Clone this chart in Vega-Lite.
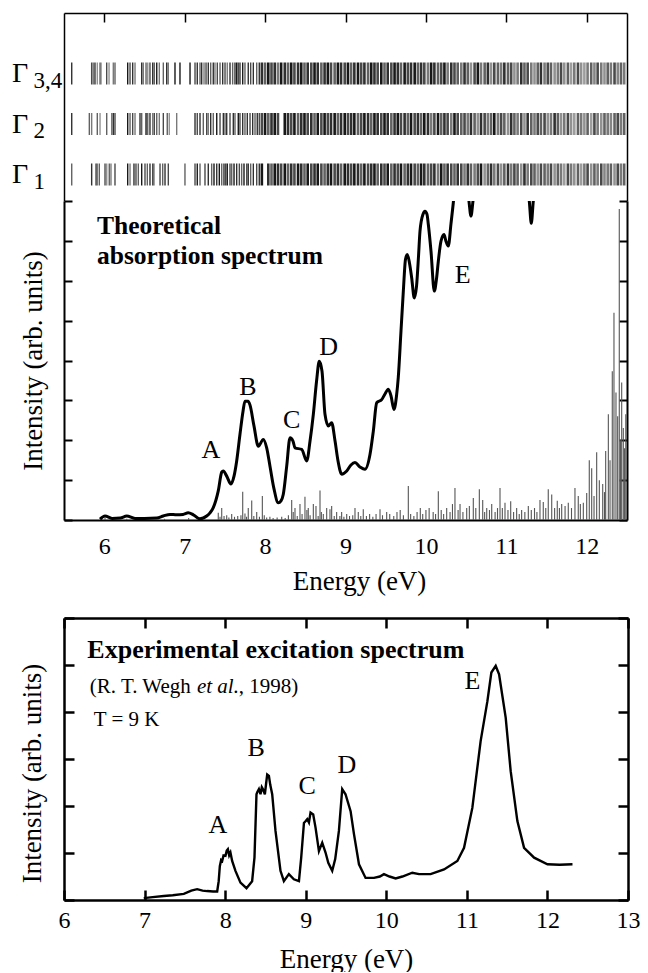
{
"$schema":"https://vega.github.io/schema/vega-lite/v6.json",
"autosize":{"type":"pad"},
"padding":{"left":12,"top":12,"right":10,"bottom":0},
"config":{"view":{"stroke":null},"font":"Times New Roman, Liberation Serif, Times, serif",
"axis":{"grid":false,"domainColor":"black","tickColor":"black","labelColor":"black","titleColor":"black","labelFont":"Times New Roman, Liberation Serif, Times, serif","titleFont":"Times New Roman, Liberation Serif, Times, serif","titleFontWeight":"normal","labelFlush":false,"labelOverlap":false,"minExtent":0},
"text":{"font":"Times New Roman, Liberation Serif, Times, serif","color":"black"}},
"datasets":{
"glabels":[{"l":3,"main":"Γ","sub":"3,4"},{"l":2,"main":"Γ","sub":"2"},{"l":1,"main":"Γ","sub":"1"}],
"gamma":[
{"l":3,"e":5.596,"f":0.8},{"l":3,"e":5.844,"f":0.7},{"l":3,"e":5.864,"f":0.5},{"l":3,"e":5.885,"f":0.8},{"l":3,"e":5.914,"f":0.4},{"l":3,"e":5.948,"f":0.6},{"l":3,"e":5.964,"f":0.3},{"l":3,"e":6.031,"f":0.7},{"l":3,"e":6.06,"f":0.4},{"l":3,"e":6.113,"f":0.5},{"l":3,"e":6.134,"f":0.6},{"l":3,"e":6.292,"f":0.9},{"l":3,"e":6.321,"f":0.7},{"l":3,"e":6.354,"f":0.8},{"l":3,"e":6.383,"f":0.5},{"l":3,"e":6.466,"f":0.8},{"l":3,"e":6.486,"f":0.5},{"l":3,"e":6.52,"f":0.6},{"l":3,"e":6.541,"f":0.4},{"l":3,"e":6.569,"f":0.7},{"l":3,"e":6.603,"f":0.8},{"l":3,"e":6.623,"f":0.6},{"l":3,"e":6.653,"f":0.9},{"l":3,"e":6.685,"f":0.5},{"l":3,"e":6.735,"f":0.6},{"l":3,"e":6.777,"f":0.8},{"l":3,"e":6.797,"f":0.5},{"l":3,"e":6.88,"f":0.9},{"l":3,"e":6.942,"f":0.9},{"l":3,"e":7.067,"f":0.9},{"l":3,"e":7.129,"f":0.7},{"l":3,"e":7.157,"f":0.8},{"l":3,"e":7.191,"f":0.6},{"l":3,"e":7.212,"f":0.8},{"l":3,"e":7.241,"f":0.5},{"l":3,"e":7.266,"f":0.7},{"l":3,"e":7.294,"f":0.8},{"l":3,"e":7.324,"f":0.6},{"l":3,"e":7.356,"f":0.8},{"l":3,"e":7.377,"f":0.5},{"l":3,"e":7.406,"f":0.7},{"l":3,"e":7.44,"f":0.6},{"l":3,"e":7.473,"f":0.8},{"l":3,"e":7.502,"f":0.7},{"l":3,"e":7.53,"f":0.5},{"l":3,"e":7.564,"f":0.8},{"l":3,"e":7.597,"f":0.6},{"l":3,"e":7.626,"f":0.8},{"l":3,"e":7.647,"f":0.9},{"l":3,"e":7.667,"f":0.7},{"l":3,"e":7.688,"f":0.8},{"l":3,"e":7.722,"f":0.9},{"l":3,"e":7.75,"f":0.6},{"l":3,"e":7.791,"f":0.8},{"l":3,"e":7.821,"f":0.7},{"l":3,"e":7.854,"f":0.8},{"l":3,"e":7.896,"f":0.6},{"l":3,"e":7.928,"f":0.8},
{"l":3,"e":7.96,"f":0.8},{"l":3,"e":8.0,"f":0.6},{"l":3,"e":8.04,"f":0.9},{"l":3,"e":8.08,"f":0.7},{"l":3,"e":8.12,"f":0.8},{"l":3,"e":8.16,"f":0.5},{"l":3,"e":8.2,"f":0.9},{"l":3,"e":8.245,"f":0.8},{"l":3,"e":8.285,"f":0.6},{"l":3,"e":8.325,"f":0.9},
{"l":3,"e":8.365,"f":0.7},{"l":3,"e":8.41,"f":0.8},{"l":3,"e":8.45,"f":0.9},{"l":3,"e":8.49,"f":0.6},{"l":3,"e":8.53,"f":0.8},{"l":3,"e":8.575,"f":0.7},{"l":3,"e":8.615,"f":0.9},{"l":3,"e":8.655,"f":0.8},{"l":3,"e":8.7,"f":0.6},{"l":3,"e":8.74,"f":0.8},
{"l":3,"e":8.78,"f":0.9},{"l":3,"e":8.82,"f":0.7},{"l":3,"e":8.865,"f":0.6},{"l":3,"e":8.905,"f":0.9},{"l":3,"e":8.945,"f":0.8},{"l":3,"e":8.99,"f":0.7},{"l":3,"e":9.03,"f":0.9},{"l":3,"e":9.07,"f":0.6},{"l":3,"e":9.11,"f":0.8},{"l":3,"e":9.155,"f":0.9},
{"l":3,"e":9.195,"f":0.7},{"l":3,"e":9.235,"f":0.8},{"l":3,"e":9.28,"f":0.6},{"l":3,"e":9.32,"f":0.9},{"l":3,"e":9.36,"f":0.8},{"l":3,"e":9.4,"f":0.7},{"l":3,"e":9.445,"f":0.9},{"l":3,"e":9.485,"f":0.6},{"l":3,"e":9.525,"f":0.8},{"l":3,"e":9.57,"f":0.7},
{"l":3,"e":9.61,"f":0.9},{"l":3,"e":9.65,"f":0.8},{"l":3,"e":9.69,"f":0.6},{"l":3,"e":9.735,"f":0.9},{"l":3,"e":9.775,"f":0.7},{"l":3,"e":9.815,"f":0.8},{"l":3,"e":9.86,"f":0.9},{"l":3,"e":9.9,"f":0.6},{"l":3,"e":9.94,"f":0.8},{"l":3,"e":9.98,"f":0.7},
{"l":3,"e":10.025,"f":0.5},{"l":3,"e":10.065,"f":0.9},{"l":3,"e":10.105,"f":0.8},{"l":3,"e":10.15,"f":0.6},{"l":3,"e":10.19,"f":0.7},{"l":3,"e":10.23,"f":0.9},{"l":3,"e":10.27,"f":0.5},{"l":3,"e":10.315,"f":0.8},{"l":3,"e":10.355,"f":0.7},{"l":3,"e":10.395,"f":0.6},
{"l":3,"e":10.44,"f":0.5},{"l":3,"e":10.48,"f":0.8},{"l":3,"e":10.52,"f":0.6},{"l":3,"e":10.56,"f":0.4},{"l":3,"e":10.605,"f":0.7},{"l":3,"e":10.645,"f":0.9},{"l":3,"e":10.685,"f":0.5},{"l":3,"e":10.73,"f":0.6},{"l":3,"e":10.77,"f":0.8},{"l":3,"e":10.81,"f":0.4},
{"l":3,"e":10.85,"f":0.7},{"l":3,"e":10.895,"f":0.6},{"l":3,"e":10.935,"f":0.5},{"l":3,"e":10.975,"f":0.8},{"l":3,"e":11.02,"f":0.6},{"l":3,"e":11.06,"f":0.7},{"l":3,"e":11.1,"f":0.4},{"l":3,"e":11.14,"f":0.5},{"l":3,"e":11.185,"f":0.8},{"l":3,"e":11.225,"f":0.6},
{"l":3,"e":11.265,"f":0.7},{"l":3,"e":11.31,"f":0.5},{"l":3,"e":11.35,"f":0.4},{"l":3,"e":11.39,"f":0.6},{"l":3,"e":11.43,"f":0.8},{"l":3,"e":11.475,"f":0.5},{"l":3,"e":11.515,"f":0.7},{"l":3,"e":11.555,"f":0.6},{"l":3,"e":11.6,"f":0.4},{"l":3,"e":11.64,"f":0.5},
{"l":3,"e":11.68,"f":0.7},{"l":3,"e":11.72,"f":0.4},{"l":3,"e":11.765,"f":0.6},{"l":3,"e":11.805,"f":0.35},{"l":3,"e":11.845,"f":0.5},{"l":3,"e":11.89,"f":0.7},{"l":3,"e":11.93,"f":0.4},{"l":3,"e":11.97,"f":0.35},{"l":3,"e":12.01,"f":0.5},{"l":3,"e":12.055,"f":0.6},
{"l":3,"e":12.095,"f":0.45},{"l":3,"e":12.135,"f":0.7},{"l":3,"e":12.18,"f":0.5},{"l":3,"e":12.22,"f":0.4},{"l":3,"e":12.26,"f":0.6},{"l":3,"e":12.3,"f":0.5},{"l":3,"e":12.345,"f":0.7},{"l":3,"e":12.385,"f":0.45},{"l":3,"e":12.425,"f":0.6},{"l":3,"e":12.465,"f":0.5},
{"l":2,"e":5.596,"f":0.8},{"l":2,"e":5.815,"f":0.6},{"l":2,"e":5.844,"f":0.5},{"l":2,"e":5.914,"f":0.6},{"l":2,"e":5.948,"f":0.4},{"l":2,"e":6.031,"f":0.6},{"l":2,"e":6.093,"f":0.5},{"l":2,"e":6.113,"f":0.8},{"l":2,"e":6.134,"f":0.7},{"l":2,"e":6.292,"f":0.9},{"l":2,"e":6.321,"f":0.6},{"l":2,"e":6.354,"f":0.7},{"l":2,"e":6.383,"f":0.5},{"l":2,"e":6.445,"f":0.8},{"l":2,"e":6.466,"f":0.6},{"l":2,"e":6.52,"f":0.9},{"l":2,"e":6.541,"f":0.6},{"l":2,"e":6.569,"f":0.8},{"l":2,"e":6.603,"f":0.5},{"l":2,"e":6.623,"f":0.7},{"l":2,"e":6.653,"f":0.6},{"l":2,"e":6.685,"f":0.5},{"l":2,"e":6.735,"f":0.7},{"l":2,"e":6.784,"f":0.6},{"l":2,"e":6.809,"f":0.4},{"l":2,"e":6.901,"f":0.5},{"l":2,"e":7.129,"f":0.8},{"l":2,"e":7.157,"f":0.7},{"l":2,"e":7.191,"f":0.8},{"l":2,"e":7.232,"f":0.6},{"l":2,"e":7.274,"f":0.7},{"l":2,"e":7.294,"f":0.5},{"l":2,"e":7.324,"f":0.8},{"l":2,"e":7.356,"f":0.6},{"l":2,"e":7.399,"f":0.9},{"l":2,"e":7.44,"f":0.7},{"l":2,"e":7.481,"f":0.8},{"l":2,"e":7.502,"f":0.6},{"l":2,"e":7.523,"f":0.8},{"l":2,"e":7.564,"f":0.7},{"l":2,"e":7.605,"f":0.8},{"l":2,"e":7.626,"f":0.6},{"l":2,"e":7.667,"f":0.9},{"l":2,"e":7.688,"f":0.7},{"l":2,"e":7.722,"f":0.8},{"l":2,"e":7.75,"f":0.6},{"l":2,"e":7.779,"f":0.8},{"l":2,"e":7.813,"f":0.7},{"l":2,"e":7.846,"f":0.8},{"l":2,"e":7.875,"f":0.6},{"l":2,"e":7.903,"f":0.8},{"l":2,"e":7.928,"f":0.7},
{"l":2,"e":7.96,"f":0.7},{"l":2,"e":8.0,"f":0.9},{"l":2,"e":8.04,"f":0.6},{"l":2,"e":8.08,"f":0.8},{"l":2,"e":8.12,"f":0.9},{"l":2,"e":8.16,"f":0.7},{"l":2,"e":8.245,"f":0.9},{"l":2,"e":8.285,"f":0.8},{"l":2,"e":8.325,"f":0.7},
{"l":2,"e":8.365,"f":0.9},{"l":2,"e":8.41,"f":0.6},{"l":2,"e":8.45,"f":0.8},{"l":2,"e":8.49,"f":0.9},{"l":2,"e":8.53,"f":0.7},{"l":2,"e":8.575,"f":0.8},{"l":2,"e":8.615,"f":0.6},{"l":2,"e":8.655,"f":0.9},{"l":2,"e":8.7,"f":0.7},
{"l":2,"e":8.74,"f":0.9},{"l":2,"e":8.78,"f":0.7},{"l":2,"e":8.82,"f":0.8},{"l":2,"e":8.865,"f":0.9},{"l":2,"e":8.905,"f":0.6},{"l":2,"e":8.945,"f":0.8},{"l":2,"e":8.99,"f":0.9},{"l":2,"e":9.03,"f":0.7},{"l":2,"e":9.07,"f":0.8},{"l":2,"e":9.11,"f":0.9},{"l":2,"e":9.155,"f":0.6},{"l":2,"e":9.195,"f":0.7},{"l":2,"e":9.235,"f":0.9},{"l":2,"e":9.28,"f":0.8},{"l":2,"e":9.32,"f":0.6},{"l":2,"e":9.36,"f":0.9},{"l":2,"e":9.4,"f":0.8},
{"l":2,"e":9.445,"f":0.7},{"l":2,"e":9.485,"f":0.9},{"l":2,"e":9.525,"f":0.8},{"l":2,"e":9.57,"f":0.6},{"l":2,"e":9.61,"f":0.8},{"l":2,"e":9.65,"f":0.9},{"l":2,"e":9.69,"f":0.7},{"l":2,"e":9.735,"f":0.8},{"l":2,"e":9.775,"f":0.6},{"l":2,"e":9.815,"f":0.9},{"l":2,"e":9.86,"f":0.7},{"l":2,"e":9.9,"f":0.8},{"l":2,"e":9.94,"f":0.6},{"l":2,"e":9.98,"f":0.9},{"l":2,"e":10.025,"f":0.8},{"l":2,"e":10.065,"f":0.5},{"l":2,"e":10.105,"f":0.7},{"l":2,"e":10.15,"f":0.9},{"l":2,"e":10.19,"f":0.6},{"l":2,"e":10.23,"f":0.8},{"l":2,"e":10.27,"f":0.7},{"l":2,"e":10.315,"f":0.5},{"l":2,"e":10.355,"f":0.9},{"l":2,"e":10.395,"f":0.7},
{"l":2,"e":10.44,"f":0.6},{"l":2,"e":10.48,"f":0.7},{"l":2,"e":10.52,"f":0.5},{"l":2,"e":10.56,"f":0.8},{"l":2,"e":10.605,"f":0.6},{"l":2,"e":10.645,"f":0.4},{"l":2,"e":10.685,"f":0.8},{"l":2,"e":10.73,"f":0.7},{"l":2,"e":10.77,"f":0.5},{"l":2,"e":10.81,"f":0.6},{"l":2,"e":10.85,"f":0.9},{"l":2,"e":10.895,"f":0.5},{"l":2,"e":10.935,"f":0.7},{"l":2,"e":10.975,"f":0.6},{"l":2,"e":11.02,"f":0.4},{"l":2,"e":11.06,"f":0.8},{"l":2,"e":11.1,"f":0.6},{"l":2,"e":11.14,"f":0.5},{"l":2,"e":11.185,"f":0.7},{"l":2,"e":11.225,"f":0.4},{"l":2,"e":11.265,"f":0.8},{"l":2,"e":11.31,"f":0.6},{"l":2,"e":11.35,"f":0.5},{"l":2,"e":11.39,"f":0.7},{"l":2,"e":11.43,"f":0.6},
{"l":2,"e":11.475,"f":0.7},{"l":2,"e":11.515,"f":0.4},{"l":2,"e":11.555,"f":0.5},{"l":2,"e":11.6,"f":0.8},{"l":2,"e":11.64,"f":0.6},{"l":2,"e":11.68,"f":0.4},{"l":2,"e":11.72,"f":0.5},{"l":2,"e":11.765,"f":0.7},{"l":2,"e":11.805,"f":0.4},{"l":2,"e":11.845,"f":0.35},{"l":2,"e":11.89,"f":0.6},{"l":2,"e":11.93,"f":0.5},{"l":2,"e":11.97,"f":0.4},{"l":2,"e":12.01,"f":0.6},{"l":2,"e":12.055,"f":0.35},{"l":2,"e":12.095,"f":0.7},{"l":2,"e":12.135,"f":0.5},{"l":2,"e":12.18,"f":0.4},{"l":2,"e":12.22,"f":0.6},{"l":2,"e":12.26,"f":0.5},{"l":2,"e":12.3,"f":0.45},{"l":2,"e":12.345,"f":0.6},{"l":2,"e":12.385,"f":0.7},{"l":2,"e":12.425,"f":0.5},{"l":2,"e":12.465,"f":0.6},
{"l":1,"e":5.596,"f":0.6},{"l":1,"e":5.844,"f":0.8},{"l":1,"e":5.898,"f":0.7},{"l":1,"e":5.914,"f":0.5},{"l":1,"e":5.939,"f":0.6},{"l":1,"e":6.01,"f":0.7},{"l":1,"e":6.031,"f":0.4},{"l":1,"e":6.063,"f":0.6},{"l":1,"e":6.084,"f":0.5},{"l":1,"e":6.134,"f":0.7},{"l":1,"e":6.292,"f":0.9},{"l":1,"e":6.321,"f":0.5},{"l":1,"e":6.37,"f":0.8},{"l":1,"e":6.395,"f":0.7},{"l":1,"e":6.424,"f":0.6},{"l":1,"e":6.466,"f":0.9},{"l":1,"e":6.507,"f":0.7},{"l":1,"e":6.536,"f":0.6},{"l":1,"e":6.569,"f":0.8},{"l":1,"e":6.603,"f":0.7},{"l":1,"e":6.619,"f":0.5},{"l":1,"e":6.694,"f":0.7},{"l":1,"e":6.727,"f":0.6},{"l":1,"e":6.756,"f":0.8},{"l":1,"e":6.797,"f":0.7},{"l":1,"e":7.004,"f":0.6},{"l":1,"e":7.129,"f":0.7},{"l":1,"e":7.157,"f":0.9},{"l":1,"e":7.191,"f":0.6},{"l":1,"e":7.253,"f":0.7},{"l":1,"e":7.294,"f":0.8},{"l":1,"e":7.336,"f":0.6},{"l":1,"e":7.365,"f":0.9},{"l":1,"e":7.399,"f":0.8},{"l":1,"e":7.431,"f":0.9},{"l":1,"e":7.461,"f":0.6},{"l":1,"e":7.489,"f":0.8},{"l":1,"e":7.51,"f":0.7},{"l":1,"e":7.53,"f":0.9},{"l":1,"e":7.564,"f":0.7},{"l":1,"e":7.585,"f":0.6},{"l":1,"e":7.614,"f":0.9},{"l":1,"e":7.647,"f":0.8},{"l":1,"e":7.68,"f":0.7},{"l":1,"e":7.709,"f":0.6},{"l":1,"e":7.738,"f":0.9},{"l":1,"e":7.772,"f":0.7},{"l":1,"e":7.791,"f":0.8},{"l":1,"e":7.821,"f":0.6},{"l":1,"e":7.854,"f":0.8},{"l":1,"e":7.896,"f":0.7},{"l":1,"e":7.928,"f":0.8},
{"l":1,"e":7.96,"f":0.9},{"l":1,"e":8.04,"f":0.8},{"l":1,"e":8.08,"f":0.6},{"l":1,"e":8.12,"f":0.9},{"l":1,"e":8.16,"f":0.8},{"l":1,"e":8.2,"f":0.7},{"l":1,"e":8.245,"f":0.9},{"l":1,"e":8.285,"f":0.6},{"l":1,"e":8.325,"f":0.8},{"l":1,"e":8.365,"f":0.7},{"l":1,"e":8.41,"f":0.9},{"l":1,"e":8.45,"f":0.8},{"l":1,"e":8.49,"f":0.6},{"l":1,"e":8.53,"f":0.9},{"l":1,"e":8.575,"f":0.7},{"l":1,"e":8.615,"f":0.8},{"l":1,"e":8.655,"f":0.9},{"l":1,"e":8.7,"f":0.7},
{"l":1,"e":8.74,"f":0.6},{"l":1,"e":8.78,"f":0.8},{"l":1,"e":8.82,"f":0.9},{"l":1,"e":8.865,"f":0.7},{"l":1,"e":8.905,"f":0.8},{"l":1,"e":8.945,"f":0.6},{"l":1,"e":8.99,"f":0.9},{"l":1,"e":9.03,"f":0.8},{"l":1,"e":9.07,"f":0.7},{"l":1,"e":9.11,"f":0.9},{"l":1,"e":9.155,"f":0.8},{"l":1,"e":9.195,"f":0.6},{"l":1,"e":9.235,"f":0.9},{"l":1,"e":9.28,"f":0.7},{"l":1,"e":9.32,"f":0.8},{"l":1,"e":9.36,"f":0.9},{"l":1,"e":9.4,"f":0.6},
{"l":1,"e":9.445,"f":0.8},{"l":1,"e":9.485,"f":0.7},{"l":1,"e":9.525,"f":0.9},{"l":1,"e":9.57,"f":0.6},{"l":1,"e":9.61,"f":0.8},{"l":1,"e":9.65,"f":0.7},{"l":1,"e":9.69,"f":0.9},{"l":1,"e":9.735,"f":0.6},{"l":1,"e":9.775,"f":0.8},{"l":1,"e":9.815,"f":0.9},{"l":1,"e":9.86,"f":0.7},{"l":1,"e":9.9,"f":0.6},{"l":1,"e":9.94,"f":0.9},{"l":1,"e":9.98,"f":0.8},{"l":1,"e":10.025,"f":0.6},{"l":1,"e":10.065,"f":0.7},{"l":1,"e":10.105,"f":0.8},{"l":1,"e":10.15,"f":0.5},{"l":1,"e":10.19,"f":0.9},{"l":1,"e":10.23,"f":0.6},{"l":1,"e":10.27,"f":0.8},{"l":1,"e":10.315,"f":0.7},{"l":1,"e":10.355,"f":0.6},{"l":1,"e":10.395,"f":0.8},
{"l":1,"e":10.44,"f":0.7},{"l":1,"e":10.48,"f":0.5},{"l":1,"e":10.52,"f":0.8},{"l":1,"e":10.56,"f":0.6},{"l":1,"e":10.605,"f":0.5},{"l":1,"e":10.645,"f":0.7},{"l":1,"e":10.685,"f":0.9},{"l":1,"e":10.73,"f":0.4},{"l":1,"e":10.77,"f":0.6},{"l":1,"e":10.81,"f":0.8},{"l":1,"e":10.85,"f":0.5},{"l":1,"e":10.895,"f":0.7},{"l":1,"e":10.935,"f":0.4},{"l":1,"e":10.975,"f":0.6},{"l":1,"e":11.02,"f":0.8},{"l":1,"e":11.06,"f":0.5},{"l":1,"e":11.1,"f":0.7},{"l":1,"e":11.14,"f":0.6},{"l":1,"e":11.185,"f":0.4},{"l":1,"e":11.225,"f":0.8},{"l":1,"e":11.265,"f":0.5},{"l":1,"e":11.31,"f":0.7},{"l":1,"e":11.35,"f":0.6},{"l":1,"e":11.39,"f":0.4},{"l":1,"e":11.43,"f":0.7},
{"l":1,"e":11.475,"f":0.6},{"l":1,"e":11.515,"f":0.5},{"l":1,"e":11.555,"f":0.7},{"l":1,"e":11.6,"f":0.4},{"l":1,"e":11.64,"f":0.6},{"l":1,"e":11.68,"f":0.5},{"l":1,"e":11.72,"f":0.35},{"l":1,"e":11.765,"f":0.7},{"l":1,"e":11.805,"f":0.5},{"l":1,"e":11.845,"f":0.4},{"l":1,"e":11.89,"f":0.6},{"l":1,"e":11.93,"f":0.35},{"l":1,"e":11.97,"f":0.5},{"l":1,"e":12.01,"f":0.7},{"l":1,"e":12.055,"f":0.4},{"l":1,"e":12.095,"f":0.6},{"l":1,"e":12.135,"f":0.5},{"l":1,"e":12.18,"f":0.7},{"l":1,"e":12.22,"f":0.45},{"l":1,"e":12.26,"f":0.5},{"l":1,"e":12.3,"f":0.6},{"l":1,"e":12.345,"f":0.4},{"l":1,"e":12.385,"f":0.7},{"l":1,"e":12.425,"f":0.5},{"l":1,"e":12.465,"f":0.6}
],
"sticks":[
{"e":5.97,"h":0.04},{"e":6.01,"h":0.06},{"e":6.28,"h":0.03},{"e":6.75,"h":0.03},{"e":7.05,"h":0.05},{"e":7.2,"h":0.03},{"e":7.418,"h":0.18},{"e":7.44,"h":0.08},{"e":7.461,"h":0.3},{"e":7.49,"h":0.1},{"e":7.523,"h":0.12},{"e":7.55,"h":0.06},{"e":7.585,"h":0.15},{"e":7.62,"h":0.08},{"e":7.66,"h":0.1},{"e":7.7,"h":0.12},{"e":7.722,"h":0.71},{"e":7.75,"h":0.16},{"e":7.77,"h":0.08},{"e":7.791,"h":0.3},{"e":7.834,"h":0.49},{"e":7.86,"h":0.1},{"e":7.896,"h":0.2},{"e":7.93,"h":0.08},{"e":7.966,"h":0.6},{"e":7.99,"h":0.12},{"e":8.02,"h":0.06},{"e":8.06,"h":0.08},{"e":8.1,"h":0.05},{"e":8.15,"h":0.06},{"e":8.207,"h":0.08},{"e":8.25,"h":0.05},{"e":8.29,"h":0.12},{"e":8.331,"h":0.5},{"e":8.35,"h":0.2},{"e":8.372,"h":0.3},{"e":8.4,"h":0.1},{"e":8.434,"h":0.4},{"e":8.46,"h":0.15},{"e":8.496,"h":0.58},{"e":8.52,"h":0.25},{"e":8.537,"h":0.3},{"e":8.56,"h":0.12},{"e":8.6,"h":0.4},{"e":8.633,"h":0.35},{"e":8.66,"h":0.1},{"e":8.683,"h":0.74},{"e":8.7,"h":0.2},{"e":8.724,"h":0.15},{"e":8.766,"h":0.3},{"e":8.807,"h":0.27},{"e":8.828,"h":0.35},{"e":8.86,"h":0.1},{"e":8.89,"h":0.2},{"e":8.93,"h":0.1},{"e":8.952,"h":0.2},{"e":8.98,"h":0.08},{"e":9.015,"h":0.15},{"e":9.05,"h":0.1},{"e":9.09,"h":0.12},{"e":9.118,"h":0.3},{"e":9.159,"h":0.2},{"e":9.19,"h":0.1},{"e":9.221,"h":0.27},{"e":9.26,"h":0.1},{"e":9.3,"h":0.15},{"e":9.34,"h":0.08},{"e":9.38,"h":0.15},{"e":9.429,"h":0.27},{"e":9.46,"h":0.12},{"e":9.512,"h":0.2},{"e":9.55,"h":0.15},{"e":9.6,"h":0.1},{"e":9.64,"h":0.2},{"e":9.68,"h":0.25},{"e":9.72,"h":0.12},{"e":9.781,"h":0.85},{"e":9.81,"h":0.15},{"e":9.85,"h":0.1},{"e":9.89,"h":0.2},{"e":9.93,"h":0.3},{"e":9.96,"h":0.15},{"e":10.0,"h":0.25},{"e":10.04,"h":0.3},{"e":10.09,"h":0.2},{"e":10.12,"h":0.15},{"e":10.154,"h":0.72},{"e":10.19,"h":0.25},{"e":10.22,"h":0.15},{"e":10.258,"h":0.3},{"e":10.3,"h":0.2},{"e":10.33,"h":0.4},{"e":10.361,"h":0.8},{"e":10.4,"h":0.25},{"e":10.424,"h":0.4},{"e":10.46,"h":0.2},{"e":10.507,"h":0.3},{"e":10.54,"h":0.35},{"e":10.589,"h":0.55},{"e":10.62,"h":0.3},{"e":10.664,"h":0.77},{"e":10.706,"h":0.5},{"e":10.73,"h":0.2},{"e":10.756,"h":0.3},{"e":10.79,"h":0.25},{"e":10.818,"h":0.4},{"e":10.86,"h":0.2},{"e":10.89,"h":0.3},{"e":10.921,"h":0.8},{"e":10.95,"h":0.3},{"e":10.983,"h":0.43},{"e":11.02,"h":0.25},{"e":11.054,"h":0.47},{"e":11.09,"h":0.2},{"e":11.128,"h":0.3},{"e":11.16,"h":0.15},{"e":11.19,"h":0.25},{"e":11.23,"h":0.2},{"e":11.273,"h":0.35},{"e":11.31,"h":0.25},{"e":11.35,"h":0.3},{"e":11.38,"h":0.2},{"e":11.418,"h":0.5},{"e":11.459,"h":0.45},{"e":11.49,"h":0.3},{"e":11.521,"h":0.77},{"e":11.564,"h":0.64},{"e":11.6,"h":0.3},{"e":11.633,"h":0.48},{"e":11.66,"h":0.3},{"e":11.688,"h":0.4},{"e":11.73,"h":0.35},{"e":11.77,"h":0.43},{"e":11.81,"h":0.3},{"e":11.853,"h":0.8},{"e":11.894,"h":0.6},{"e":11.92,"h":0.4},{"e":11.957,"h":0.43},{"e":11.999,"h":0.68},{"e":12.031,"h":1.5},{"e":12.061,"h":1.3},{"e":12.09,"h":0.6},{"e":12.123,"h":1.7},{"e":12.156,"h":1.0},{"e":12.198,"h":0.9},{"e":12.22,"h":0.7},{"e":12.235,"h":1.73},{"e":12.268,"h":2.65},{"e":12.289,"h":1.5},{"e":12.317,"h":3.73},{"e":12.338,"h":5.2},{"e":12.363,"h":3.2},{"e":12.384,"h":2.6},{"e":12.404,"h":7.8},{"e":12.42,"h":2.0},{"e":12.434,"h":3.45},{"e":12.454,"h":2.31},{"e":12.47,"h":1.8},{"e":12.485,"h":2.65}
],
"theory":[
{"e":5.948,"v":0.02},{"e":6.01,"v":0.1},{"e":6.097,"v":0.04},{"e":6.2,"v":0.05},{"e":6.28,"v":0.1},{"e":6.383,"v":0.04},{"e":6.5,"v":0.04},{"e":6.653,"v":0.05},{"e":6.735,"v":0.1},{"e":6.818,"v":0.14},{"e":6.901,"v":0.13},{"e":6.98,"v":0.14},{"e":7.045,"v":0.18},{"e":7.108,"v":0.13},{"e":7.191,"v":0.03},{"e":7.274,"v":0.1},{"e":7.315,"v":0.18},{"e":7.356,"v":0.31},{"e":7.418,"v":0.73},{"e":7.461,"v":1.2},{"e":7.48,"v":1.23},{"e":7.523,"v":1.1},{"e":7.576,"v":0.9},{"e":7.614,"v":1.1},{"e":7.647,"v":1.48},{"e":7.688,"v":2.15},{"e":7.726,"v":2.73},{"e":7.75,"v":2.98},{"e":7.788,"v":2.98},{"e":7.813,"v":2.88},{"e":7.862,"v":2.36},{"e":7.916,"v":1.85},{"e":7.978,"v":2.02},{"e":8.02,"v":1.81},{"e":8.061,"v":1.35},{"e":8.111,"v":0.78},{"e":8.164,"v":0.43},{"e":8.198,"v":0.48},{"e":8.226,"v":0.64},{"e":8.269,"v":1.35},{"e":8.31,"v":2.06},{"e":8.347,"v":1.98},{"e":8.372,"v":1.81},{"e":8.455,"v":1.77},{"e":8.518,"v":1.48},{"e":8.559,"v":1.98},{"e":8.6,"v":2.65},{"e":8.64,"v":3.48},{"e":8.674,"v":3.98},{"e":8.708,"v":3.73},{"e":8.745,"v":2.65},{"e":8.786,"v":2.36},{"e":8.828,"v":2.44},{"e":8.87,"v":1.98},{"e":8.907,"v":1.48},{"e":8.953,"v":1.15},{"e":9.015,"v":1.23},{"e":9.068,"v":1.38},{"e":9.118,"v":1.44},{"e":9.18,"v":1.33},{"e":9.242,"v":1.27},{"e":9.305,"v":1.65},{"e":9.346,"v":2.23},{"e":9.388,"v":2.94},{"e":9.45,"v":3.02},{"e":9.491,"v":3.16},{"e":9.532,"v":3.28},{"e":9.566,"v":3.11},{"e":9.603,"v":2.77},{"e":9.634,"v":3.11},{"e":9.656,"v":3.57},{"e":9.69,"v":4.74},{"e":9.719,"v":5.74},{"e":9.746,"v":6.54},{"e":9.768,"v":6.66},{"e":9.796,"v":6.44},{"e":9.823,"v":6.07},{"e":9.855,"v":5.57},{"e":9.883,"v":5.86},{"e":9.908,"v":6.62},{"e":9.926,"v":7.24},{"e":9.964,"v":7.67},{"e":9.988,"v":7.74},{"e":10.013,"v":7.67},{"e":10.03,"v":7.41},{"e":10.063,"v":6.74},{"e":10.104,"v":5.74},{"e":10.131,"v":6.04},{"e":10.154,"v":6.49},{"e":10.187,"v":6.99},{"e":10.225,"v":7.16},{"e":10.249,"v":6.99},{"e":10.278,"v":6.87},{"e":10.312,"v":7.44},{"e":10.34,"v":7.95},{"e":10.36,"v":8.37},{"e":10.4,"v":8.9},{"e":10.46,"v":9.2},{"e":10.5,"v":8.7},{"e":10.535,"v":8.0},{"e":10.56,"v":7.62},{"e":10.585,"v":8.0},{"e":10.62,"v":8.7},{"e":10.7,"v":9.4},{"e":10.85,"v":9.8},{"e":11.0,"v":9.5},{"e":11.15,"v":9.0},{"e":11.25,"v":8.4},{"e":11.285,"v":8.0},{"e":11.31,"v":7.44},{"e":11.335,"v":8.0},{"e":11.37,"v":8.5},{"e":11.5,"v":9.4},{"e":11.8,"v":10.2},{"e":12.2,"v":10.8},{"e":12.5,"v":11.2}
],
"tpeaks":[{"e":7.325,"v":1.56,"t":"A"},{"e":7.788,"v":3.125,"t":"B"},{"e":8.331,"v":2.31,"t":"C"},{"e":8.789,"v":4.15,"t":"D"},{"e":10.458,"v":5.95,"t":"E"}],
"ttitle":[{"e":5.91,"v":7.17,"t":"Theoretical"},{"e":5.91,"v":6.42,"t":"absorption spectrum"}],
"expt":[
{"e":6.99,"v":0.04},{"e":7.1,"v":0.06},{"e":7.239,"v":0.085},{"e":7.35,"v":0.1},{"e":7.487,"v":0.13},{"e":7.58,"v":0.2},{"e":7.652,"v":0.23},{"e":7.72,"v":0.2},{"e":7.776,"v":0.19},{"e":7.85,"v":0.18},{"e":7.901,"v":0.18},{"e":7.92,"v":0.4},{"e":7.934,"v":0.72},{"e":7.95,"v":0.85},{"e":7.963,"v":0.83},{"e":7.98,"v":0.95},{"e":8.004,"v":0.94},{"e":8.02,"v":1.05},{"e":8.034,"v":1.08},{"e":8.05,"v":0.95},{"e":8.066,"v":1.01},{"e":8.087,"v":0.83},{"e":8.128,"v":0.62},{"e":8.19,"v":0.37},{"e":8.265,"v":0.25},{"e":8.335,"v":0.4},{"e":8.364,"v":0.9},{"e":8.389,"v":2.25},{"e":8.4,"v":2.3},{"e":8.419,"v":2.36},{"e":8.439,"v":2.25},{"e":8.455,"v":2.4},{"e":8.468,"v":2.36},{"e":8.493,"v":2.25},{"e":8.51,"v":2.5},{"e":8.522,"v":2.67},{"e":8.543,"v":2.64},{"e":8.56,"v":2.45},{"e":8.584,"v":2.25},{"e":8.625,"v":1.47},{"e":8.687,"v":0.62},{"e":8.729,"v":0.4},{"e":8.791,"v":0.55},{"e":8.853,"v":0.44},{"e":8.916,"v":0.4},{"e":8.944,"v":0.9},{"e":8.978,"v":1.64},{"e":9.0,"v":1.68},{"e":9.019,"v":1.72},{"e":9.04,"v":1.65},{"e":9.06,"v":1.86},{"e":9.093,"v":1.82},{"e":9.122,"v":1.54},{"e":9.164,"v":1.04},{"e":9.205,"v":1.22},{"e":9.246,"v":1.01},{"e":9.28,"v":0.79},{"e":9.329,"v":0.62},{"e":9.366,"v":0.87},{"e":9.412,"v":1.47},{"e":9.453,"v":2.36},{"e":9.494,"v":2.25},{"e":9.557,"v":1.89},{"e":9.599,"v":1.4},{"e":9.661,"v":0.76},{"e":9.743,"v":0.47},{"e":9.847,"v":0.47},{"e":9.92,"v":0.5},{"e":9.971,"v":0.55},{"e":10.04,"v":0.5},{"e":10.116,"v":0.46},{"e":10.2,"v":0.5},{"e":10.323,"v":0.58},{"e":10.406,"v":0.55},{"e":10.55,"v":0.55},{"e":10.717,"v":0.65},{"e":10.882,"v":0.83},{"e":10.965,"v":1.11},{"e":11.068,"v":1.96},{"e":11.171,"v":3.38},{"e":11.255,"v":4.23},{"e":11.304,"v":4.84},{"e":11.358,"v":4.98},{"e":11.4,"v":4.8},{"e":11.441,"v":4.34},{"e":11.482,"v":3.88},{"e":11.544,"v":2.74},{"e":11.627,"v":1.68},{"e":11.71,"v":1.11},{"e":11.835,"v":0.9},{"e":12.0,"v":0.76},{"e":12.15,"v":0.75},{"e":12.311,"v":0.76}
],
"epeaks":[{"e":7.909,"v":1.43,"t":"A"},{"e":8.385,"v":3.06,"t":"B"},{"e":9.019,"v":2.25,"t":"C"},{"e":9.512,"v":2.71,"t":"D"},{"e":11.068,"v":4.5,"t":"E"}],
"etitle":[{"e":6.29,"v":5.155,"t":"Experimental excitation spectrum"}],
"enote":[{"e":6.32,"v":4.41,"t":"(R. T. Wegh"},{"e":8.17,"v":4.41,"t":", 1998)"},{"e":6.37,"v":3.7,"t":"T = 9 K"}],
"eital":[{"e":7.65,"v":4.41,"t":"et al."}]
},
"vconcat":[
{"width":563,"height":188,
 "resolve":{"scale":{"x":"independent","y":"independent"}},
 "layer":[
   {"data":{"name":"gamma"},"transform":[{"filter":"datum.e < 7.94"}],
    "mark":{"type":"tick","orient":"vertical","color":"black","thickness":1.4,"size":22},
    "encoding":{
     "x":{"field":"e","type":"quantitative","scale":{"domain":[5.5,12.5],"nice":false,"zero":false},"axis":{"orient":"top","values":[6,7,8,9,10,11,12],"labels":false,"tickSize":-9,"tickWidth":1.5,"domainWidth":1.5,"title":null}},
     "y":{"field":"l","type":"quantitative","scale":{"domain":[0.475,4.198],"nice":false,"zero":false},"axis":{"orient":"left","labels":false,"ticks":false,"domainWidth":1.5,"title":null}},
     "opacity":{"field":"f","type":"quantitative","scale":{"domain":[0,1],"range":[0.05,1]},"legend":null}}},
   {"data":{"name":"gamma"},"transform":[{"filter":"datum.e >= 7.94"}],
    "mark":{"type":"tick","orient":"vertical","color":"black","thickness":2.6,"size":22},
    "encoding":{
     "x":{"field":"e","type":"quantitative","scale":{"domain":[5.5,12.5],"nice":false,"zero":false},"axis":null},
     "y":{"field":"l","type":"quantitative","scale":{"domain":[0.475,4.198],"nice":false,"zero":false},"axis":null},
     "opacity":{"field":"f","type":"quantitative","scale":{"domain":[0,1],"range":[0.05,1]},"legend":null}}},
   {"data":{"name":"glabels"},"mark":{"type":"text","align":"left","baseline":"alphabetic","fontSize":28,"dx":-52,"dy":9},
    "encoding":{"x":{"datum":5.5,"type":"quantitative","scale":{"domain":[5.5,12.5],"nice":false,"zero":false},"axis":null},"y":{"field":"l","type":"quantitative","scale":{"domain":[0.475,4.198],"nice":false,"zero":false},"axis":null},"text":{"field":"main"}}},
   {"data":{"name":"glabels"},"mark":{"type":"text","align":"left","baseline":"alphabetic","fontSize":23,"dx":-30.5,"dy":14.3},
    "encoding":{"x":{"datum":5.5,"type":"quantitative","scale":{"domain":[5.5,12.5],"nice":false,"zero":false},"axis":null},"y":{"field":"l","type":"quantitative","scale":{"domain":[0.475,4.198],"nice":false,"zero":false},"axis":null},"text":{"field":"sub"}}},
   {"data":{"name":"glabels"},"mark":{"type":"point","opacity":0},
    "encoding":{"x":{"datum":9,"type":"quantitative","scale":{"domain":[5.5,12.5],"nice":false,"zero":false},"axis":null},
     "y":{"field":"l","type":"quantitative","scale":{"domain":[0.475,4.198],"nice":false,"zero":false},"axis":{"orient":"right","labels":false,"ticks":false,"domainWidth":1.5,"title":null}}}}
 ]},
{"width":563,"height":319,
 "resolve":{"scale":{"x":"independent","y":"independent"}},
 "layer":[
   {"data":{"name":"sticks"},"mark":{"type":"rule","color":"#555555","strokeWidth":1.1},
    "encoding":{
     "x":{"field":"e","type":"quantitative","scale":{"domain":[5.5,12.5],"nice":false,"zero":false},"axis":{"orient":"bottom","values":[6,7,8,9,10,11,12],"ticks":false,"labelFontSize":24,"labelPadding":14,"domainWidth":2,"title":"Energy (eV)","titleFontSize":27,"titlePadding":10,"titleX":295}},
     "y":{"field":"h","type":"quantitative","scale":{"domain":[0,8],"nice":false,"zero":false},"axis":{"orient":"left","values":[0,1,2,3,4,5,6,7,8],"labels":false,"tickSize":-8,"tickWidth":2,"domainWidth":2,"title":"Intensity (arb. units)","titleFontSize":27,"titlePadding":22,"titleBaseline":"alphabetic"}},
     "y2":{"datum":0}}},
   {"data":{"name":"theory"},"mark":{"type":"line","color":"black","strokeWidth":3,"clip":true,"interpolate":"monotone"},
    "encoding":{"x":{"field":"e","type":"quantitative","scale":{"domain":[5.5,12.5],"nice":false,"zero":false},"axis":null},"y":{"field":"v","type":"quantitative","scale":{"domain":[0,8],"nice":false,"zero":false},"axis":null}}},
   {"data":{"name":"tpeaks"},"mark":{"type":"text","align":"center","baseline":"alphabetic","fontSize":26},
    "encoding":{"x":{"field":"e","type":"quantitative","scale":{"domain":[5.5,12.5],"nice":false,"zero":false},"axis":null},"y":{"field":"v","type":"quantitative","scale":{"domain":[0,8],"nice":false,"zero":false},"axis":null},"text":{"field":"t"}}},
   {"data":{"name":"ttitle"},"mark":{"type":"text","align":"left","baseline":"alphabetic","fontSize":25.5,"fontWeight":"bold"},
    "encoding":{"x":{"field":"e","type":"quantitative","scale":{"domain":[5.5,12.5],"nice":false,"zero":false},"axis":null},"y":{"field":"v","type":"quantitative","scale":{"domain":[0,8],"nice":false,"zero":false},"axis":null},"text":{"field":"t"}}},
   {"data":{"name":"tpeaks"},"mark":{"type":"point","opacity":0},
    "encoding":{"x":{"field":"e","type":"quantitative","scale":{"domain":[5.5,12.5],"nice":false,"zero":false},"axis":null},
     "y":{"field":"v","type":"quantitative","scale":{"domain":[0,8],"nice":false,"zero":false},"axis":{"orient":"right","values":[0,1,2,3,4,5,6,7,8],"labels":false,"tickSize":-8,"tickWidth":2,"domainWidth":2,"title":null}}}}
 ]},
{"width":563,"height":98,"data":{"values":[]},"mark":"point"},
{"width":564,"height":282,
 "resolve":{"scale":{"x":"independent","y":"independent"}},
 "layer":[
   {"data":{"name":"expt"},"mark":{"type":"line","color":"black","strokeWidth":2.4},
    "encoding":{
     "x":{"field":"e","type":"quantitative","scale":{"domain":[6,13],"nice":false,"zero":false},"axis":{"orient":"bottom","values":[6,7,8,9,10,11,12,13],"tickSize":-10,"tickWidth":2.5,"domainWidth":2.5,"labelFontSize":24,"labelPadding":18,"title":"Energy (eV)","titleFontSize":27,"titlePadding":14}},
     "y":{"field":"v","type":"quantitative","scale":{"domain":[0,6],"nice":false,"zero":false},"axis":{"orient":"left","values":[0,1,2,3,4,5,6],"labels":false,"tickSize":-10,"tickWidth":2.5,"domainWidth":2.5,"title":"Intensity (arb. units)","titleFontSize":27,"titlePadding":22,"titleBaseline":"alphabetic","titleY":155}}}},
   {"data":{"name":"epeaks"},"mark":{"type":"text","align":"center","baseline":"alphabetic","fontSize":26},
    "encoding":{"x":{"field":"e","type":"quantitative","scale":{"domain":[6,13],"nice":false,"zero":false},"axis":null},"y":{"field":"v","type":"quantitative","scale":{"domain":[0,6],"nice":false,"zero":false},"axis":null},"text":{"field":"t"}}},
   {"data":{"name":"etitle"},"mark":{"type":"text","align":"left","baseline":"alphabetic","fontSize":26,"fontWeight":"bold"},
    "encoding":{"x":{"field":"e","type":"quantitative","scale":{"domain":[6,13],"nice":false,"zero":false},"axis":null},"y":{"field":"v","type":"quantitative","scale":{"domain":[0,6],"nice":false,"zero":false},"axis":null},"text":{"field":"t"}}},
   {"data":{"name":"enote"},"mark":{"type":"text","align":"left","baseline":"alphabetic","fontSize":21},
    "encoding":{"x":{"field":"e","type":"quantitative","scale":{"domain":[6,13],"nice":false,"zero":false},"axis":null},"y":{"field":"v","type":"quantitative","scale":{"domain":[0,6],"nice":false,"zero":false},"axis":null},"text":{"field":"t"}}},
   {"data":{"name":"eital"},"mark":{"type":"text","align":"left","baseline":"alphabetic","fontSize":21,"fontStyle":"italic"},
    "encoding":{"x":{"field":"e","type":"quantitative","scale":{"domain":[6,13],"nice":false,"zero":false},"axis":null},"y":{"field":"v","type":"quantitative","scale":{"domain":[0,6],"nice":false,"zero":false},"axis":null},"text":{"field":"t"}}},
   {"data":{"name":"epeaks"},"mark":{"type":"point","opacity":0},
    "encoding":{"x":{"field":"e","type":"quantitative","scale":{"domain":[6,13],"nice":false,"zero":false},"axis":{"orient":"top","values":[6,7,8,9,10,11,12,13],"tickSize":-10,"tickWidth":2.5,"domainWidth":2.5,"labels":false,"title":null}},
     "y":{"field":"v","type":"quantitative","scale":{"domain":[0,6],"nice":false,"zero":false},"axis":{"orient":"right","values":[0,1,2,3,4,5,6],"tickSize":-10,"tickWidth":2.5,"domainWidth":2.5,"labels":false,"title":null}}}}
 ]}
],
"spacing":0,
"bounds":"flush"
}
